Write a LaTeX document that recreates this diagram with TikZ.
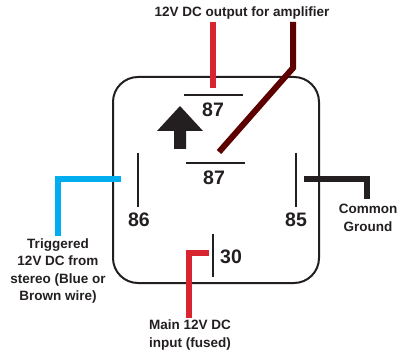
\documentclass[tikz,border=0pt]{standalone}
\usepackage{fontspec}
\setmainfont{Liberation Sans}
\definecolor{wred}{HTML}{D9252F}
\definecolor{wdark}{HTML}{5C0000}
\definecolor{wblue}{HTML}{00AEEF}
\definecolor{wblack}{HTML}{231F20}
\tikzset{
  caption/.style={font=\bfseries\fontsize{13.5}{17.5}\selectfont, text=wblack, align=center, inner sep=0pt},
  pinlbl/.style={font=\bfseries\fontsize{19.5}{22}\selectfont, text=wblack, inner sep=0pt},
  pinbar/.style={line width=2pt, draw=wblack},
  wire/.style={line width=6.5pt},
}
\begin{document}
\begin{tikzpicture}[x=1pt,y=-1pt]
\useasboundingbox (0,0) rectangle (406,352);
% relay body
\draw[line width=2pt, draw=wblack, rounded corners=25pt] (113,77) rectangle (319,283);
% pins
\coordinate (p87a-l) at (184,95); \coordinate (p87a-r) at (243,95);
\draw[pinbar] (p87a-l) -- (p87a-r);
\node[pinlbl] (l87a) at (213,110) {87};
\coordinate (p87b-l) at (186,163); \coordinate (p87b-r) at (245,163);
\draw[pinbar] (p87b-l) -- (p87b-r);
\node[pinlbl] (l87b) at (214,178) {87};
\coordinate (p86-t) at (138,153); \coordinate (p86-b) at (138,207);
\draw[pinbar] (p86-t) -- (p86-b);
\node[pinlbl] (l86) at (139,220) {86};
\coordinate (p85-t) at (296,153); \coordinate (p85-b) at (296,207);
\draw[pinbar] (p85-t) -- (p85-b);
\node[pinlbl] (l85) at (296,220) {85};
\coordinate (p30-t) at (213,234); \coordinate (p30-b) at (213,277);
\draw[pinbar] (p30-t) -- (p30-b);
\node[pinlbl] (l30) at (231,257) {30};
% arrow
\fill[wblack] (180,106) -- (203,131) -- (186,131) -- (186,149) -- (174,149) -- (174,131) -- (157,131) -- cycle;
% captions
\node[caption] (title) at (242,13) {12V DC output for amplifier};
\node[caption] (trig) at (58,271) {Triggered\\12V DC from\\stereo (Blue or\\Brown wire)};
\node[caption] (gnd) at (368,218) {Common\\Ground};
\node[caption] (main) at (190,335) {Main 12V DC\\input (fused)};
% wires
\coordinate (r1a) at (213,22); \coordinate (r1b) at (213,88);
\draw[wire, draw=wred] (r1a) -- (r1b);
\coordinate (d1) at (293,22); \coordinate (d2) at (293,68); \coordinate (d3) at (219,152);
\draw[wire, draw=wdark, line width=6pt] (d1) -- (d2) -- (d3);
\coordinate (b1) at (58,236); \coordinate (b2) at (58,179); \coordinate (b3) at (121,179);
\draw[wire, draw=wblue] (b1) -- (b2) -- (b3);
\coordinate (g1) at (304,179); \coordinate (g2) at (367,179); \coordinate (g3) at (367,199);
\draw[wire, draw=wblack] (g1) -- (g2) -- (g3);
\coordinate (m1) at (189,318); \coordinate (m2) at (189,253); \coordinate (m3) at (209,253);
\draw[wire, draw=wred] (m1) -- (m2) -- (m3);
\end{tikzpicture}
\end{document}
